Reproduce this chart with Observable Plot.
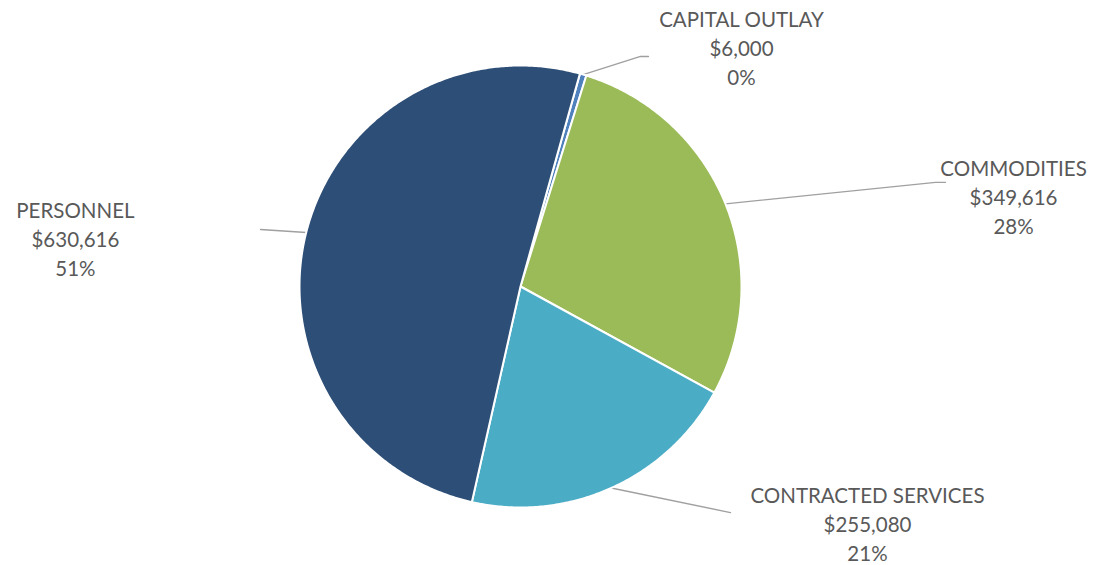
<!DOCTYPE html>
<html>
<head>
<meta charset="utf-8">
<script src="https://cdn.jsdelivr.net/npm/d3@7"></script>
<script src="https://cdn.jsdelivr.net/npm/@observablehq/plot@0.6"></script>
<style>
  html, body { margin: 0; padding: 0; background: #fff; }
  #chart { width: 1105px; height: 565px; }
</style>
</head>
<body>
<div id="chart"></div>
<script>
// ---- data ----
const categories = ["CAPITAL OUTLAY", "COMMODITIES", "CONTRACTED SERVICES", "PERSONNEL"];
const amounts = [6000, 349616, 255080, 630616];
const percentLabels = ["0%", "28%", "21%", "51%"];
const sliceColors = ["#4F81BD", "#9BBB59", "#4BACC6", "#2D4E76"];

// ---- layout (pie units: radius = 1, centre = 0,0, y up) ----
const startAngleDeg = 15.6;           // clockwise from 12 o'clock
const labelPos = {                     // centre of each 3-line label block
  "CAPITAL OUTLAY": [1.0, 1.085],
  "COMMODITIES": [2.231, 0.41],
  "CONTRACTED SERVICES": [1.570, -1.068],
  "PERSONNEL": [-2.014, 0.221]
};
const leaderEnds = {                   // elbow / end points of leader lines
  "CAPITAL OUTLAY": [[0.543, 1.041], [0.579, 1.041]],
  "COMMODITIES": [[1.878, 0.471], [1.923, 0.471]],
  "CONTRACTED SERVICES": [[0.950, -1.023]],
  "PERSONNEL": [[-1.176, 0.258]]
};

const W = 1105, H = 565, R = 221, CX = 520, CY = 286;

const total = d3.sum(amounts);
const rad = d => d * Math.PI / 180;
const pt = (deg, r) => [r * Math.sin(rad(deg)), r * Math.cos(rad(deg))];

// build slice polygons
const slicePts = [];
const slices = [];
let a0 = startAngleDeg;
categories.forEach((name, i) => {
  const sweep = amounts[i] / total * 360;
  const a1 = a0 + sweep;
  slicePts.push({name, x: 0, y: 0});
  const n = Math.max(2, Math.ceil(sweep / 0.5));
  for (let k = 0; k <= n; k++) {
    const [x, y] = pt(a0 + sweep * k / n, 1);
    slicePts.push({name, x, y});
  }
  slicePts.push({name, x: 0, y: 0});
  slices.push({name, mid: (a0 + a1) / 2});
  a0 = a1;
});

// leader lines
const leaderPts = [];
slices.forEach(s => {
  const [x, y] = pt(s.mid, 1.0);
  leaderPts.push({name: s.name, x, y});
  leaderEnds[s.name].forEach(([ex, ey]) => leaderPts.push({name: s.name, x: ex, y: ey}));
});

// labels
const fmt = d3.format("$,");
const labels = categories.map((name, i) => ({
  name,
  x: labelPos[name][0],
  y: labelPos[name][1],
  text: `${name}\n${fmt(amounts[i])}\n${percentLabels[i]}`
}));

const chart = Plot.plot({
  width: W,
  height: H,
  margin: 0,
  style: {background: "#fff", fontFamily: "Lato, 'Open Sans', sans-serif"},
  x: {domain: [-CX / R, (W - CX) / R], axis: null},
  y: {domain: [-(H - CY) / R, CY / R], axis: null},
  color: {domain: categories, range: sliceColors},
  marks: [
    Plot.line(leaderPts, {x: "x", y: "y", z: "name", stroke: "#A0A0A0", strokeWidth: 1.4}),
    Plot.line(slicePts, {x: "x", y: "y", z: "name", fill: "name", stroke: "white", strokeWidth: 2, strokeLinejoin: "round", curve: "linear"}),
    Plot.text(labels, {x: "x", y: "y", text: "text", textAnchor: "middle", lineAnchor: "middle", lineHeight: 1.415, fontSize: 20.5, fill: "#595959"})
  ]
});
document.getElementById("chart").appendChild(chart);
</script>
</body>
</html>
